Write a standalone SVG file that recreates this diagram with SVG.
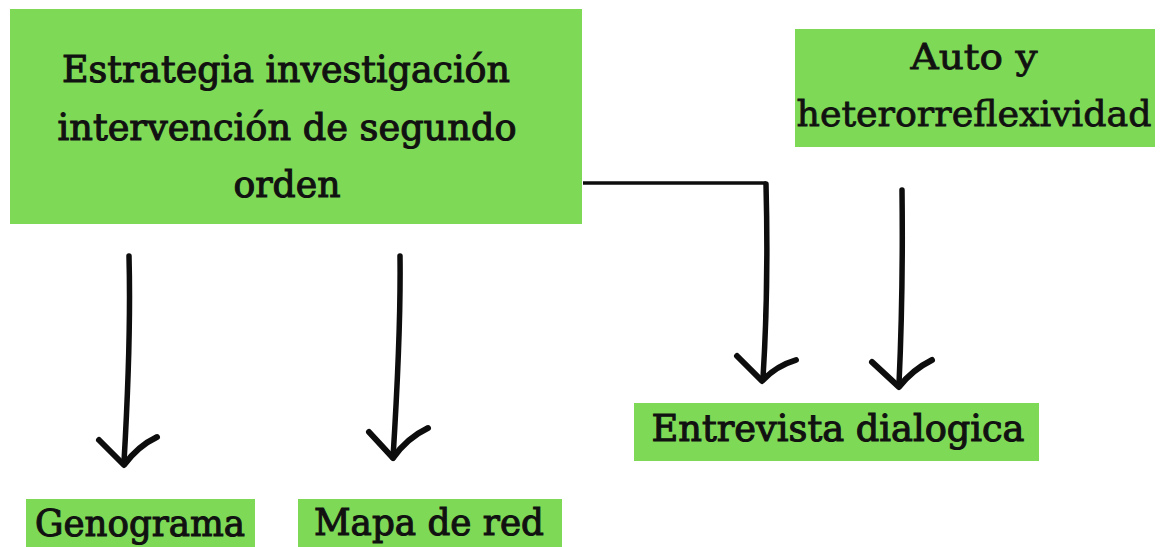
<svg xmlns="http://www.w3.org/2000/svg" width="1160" height="547" viewBox="0 0 1160 547">
<style>
.box{fill:#7ED957}
.t{font-family:"DejaVu Serif","Liberation Serif",serif;fill:#111;stroke:#111;stroke-width:1.1;font-size:37px}
.t2{font-family:"DejaVu Serif","Liberation Serif",serif;fill:#111;stroke:#111;stroke-width:0.8;font-size:36px}
.shaft{fill:none;stroke:#0d0d0d;stroke-width:5.5;stroke-linecap:round;stroke-linejoin:round}
.head{fill:none;stroke:#0d0d0d;stroke-width:6;stroke-linecap:round;stroke-linejoin:round}
.line{fill:none;stroke:#0d0d0d;stroke-width:3.5}
</style>
<rect width="1160" height="547" fill="#fff"/>
<g id="main">
<rect class="box" x="10" y="9" width="572" height="215"/>
<text class="t" x="286" y="82" text-anchor="middle" textLength="448" lengthAdjust="spacingAndGlyphs">Estrategia investigación</text>
<text class="t" x="287" y="140" text-anchor="middle" textLength="459" lengthAdjust="spacingAndGlyphs">intervención de segundo</text>
<text class="t" x="287" y="197" text-anchor="middle" textLength="107" lengthAdjust="spacingAndGlyphs">orden</text>
</g>
<g id="auto">
<rect class="box" x="795" y="29" width="360" height="118"/>
<text class="t2" x="974" y="69" text-anchor="middle" textLength="127" lengthAdjust="spacingAndGlyphs">Auto y</text>
<text class="t2" x="974" y="126" text-anchor="middle" textLength="355" lengthAdjust="spacingAndGlyphs">heterorreflexividad</text>
</g>
<g id="entrevista">
<rect class="box" x="634" y="403" width="405" height="58"/>
<text class="t" x="838" y="441" text-anchor="middle" textLength="373" lengthAdjust="spacingAndGlyphs">Entrevista dialogica</text>
</g>
<g id="genograma">
<rect class="box" x="26" y="499" width="229" height="48"/>
<text class="t" x="140" y="536" text-anchor="middle" textLength="210" lengthAdjust="spacingAndGlyphs">Genograma</text>
</g>
<g id="mapa">
<rect class="box" x="298" y="499" width="264" height="48"/>
<text class="t" x="429" y="535" text-anchor="middle" textLength="230" lengthAdjust="spacingAndGlyphs">Mapa de red</text>
</g>
<g id="connectors">
<path class="shaft" d="M129 256 C131 330 127 410 124 462"/>
<path class="head" d="M99 440 L124 465 Q138 446 157 437"/>
<path class="shaft" d="M400 256 C401 330 396 410 393 458"/>
<path class="head" d="M369 432 L393 458 Q407 438 428 428"/>
<path class="line" d="M583 183 L766 183"/>
<path class="shaft" d="M766 184 C768 260 766 330 763 378"/>
<path class="head" d="M737 356 L762 381 Q776 366 796 360"/>
<path class="shaft" d="M902 190 C903 270 901 340 899 384"/>
<path class="head" d="M872 362 L899 387 Q912 370 932 360"/>
</g>
</svg>
